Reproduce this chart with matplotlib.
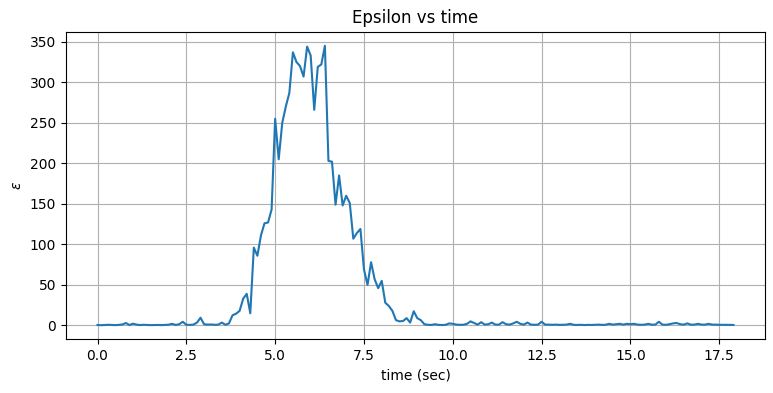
import matplotlib.pyplot as plt
import numpy as np

# sampling interval of the recorded signal (sec)
dt = 0.1

# epsilon samples, one per 0.1 s starting at t = 0
eps_quiet_start = [0.5, 0.3, 0.5, 0.8, 0.6, 0.4, 0.7, 1.2, 3.0, 0.5,
                   2.2, 1.0, 0.5, 0.8, 0.6, 0.4, 0.5, 0.6, 0.4, 0.7,
                   0.9, 2.0, 0.6, 1.5, 4.5, 0.8, 0.7, 1.0, 3.5, 9.5,
                   1.5, 1.0, 1.2, 0.8, 1.0, 3.5, 0.8, 2.5]
eps_burst = [12.5, 14.5, 18, 33, 39, 15, 96, 86, 111, 126,
             127, 143, 255, 205, 250, 270, 287, 337, 325, 320,
             307, 344, 333, 266, 319, 322, 345, 203, 202, 149,
             185, 148, 160, 151, 107, 114, 119, 69, 50, 78,
             57, 46, 55, 28, 24, 18, 6.5, 5, 5.5, 9,
             3.5, 17.5, 9, 6.5, 1.5]
eps_quiet_end = [0.8, 0.6, 1.5, 0.7, 0.5, 0.8, 2.5, 2.0, 1.0, 0.8,
                 0.8, 2.0, 5.0, 3.0, 1.0, 4.0, 1.0, 1.5, 3.5, 1.0,
                 1.0, 4.0, 1.5, 1.0, 2.5, 4.5, 2.0, 1.0, 3.5, 1.0,
                 0.8, 1.0, 4.5, 1.0, 1.0, 0.8, 1.0, 0.7, 0.8, 1.0,
                 2.0, 0.8, 0.6, 0.8, 0.5, 0.7, 0.6, 0.8, 1.0, 0.7,
                 0.8, 2.0, 1.0, 1.5, 2.0, 1.0, 2.0, 1.5, 2.0, 1.0,
                 0.8, 1.0, 2.0, 1.0, 1.0, 4.5, 1.0, 0.8, 1.5, 2.5,
                 3.0, 1.5, 1.0, 2.5, 1.0, 1.0, 2.0, 1.0, 1.0, 2.0,
                 1.0, 1.0, 0.8, 0.8, 0.7, 0.7, 0.6]

epsilon = np.array(eps_quiet_start + eps_burst + eps_quiet_end)
time = np.arange(len(epsilon)) * dt

fig, ax = plt.subplots(figsize=(7.73, 3.93), dpi=100)
fig.subplots_adjust(left=0.085, right=0.99, top=0.919, bottom=0.137)

ax.plot(time, epsilon)
ax.set_title("Epsilon vs time")
ax.set_xlabel("time (sec)")
ax.set_ylabel(r"$\epsilon$")
ax.grid(True)

fig.savefig("out.png")
